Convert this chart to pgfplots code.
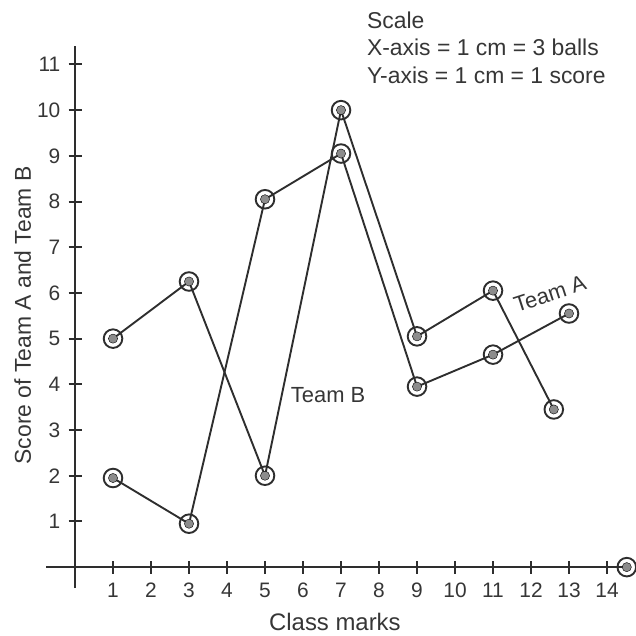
\documentclass[border=0pt]{standalone}
\usepackage{fontspec}
\setmainfont{Liberation Sans}
\usepackage{pgfplots}
\usepackage{pgfplotstable}
\pgfplotsset{compat=1.18}
\definecolor{ink}{HTML}{2E2E2E}
\definecolor{txt}{HTML}{363636}
\definecolor{dotc}{HTML}{8C8C8C}
\pgfplotstableread{
x y
1 5.0
3 6.25
5 2.0
7 10.0
9 5.05
11 6.05
12.6 3.45
}\seriesA
\pgfplotstableread{
x y
1 1.95
3 0.95
5 8.05
7 9.05
9 3.95
11 4.65
13 5.55
}\seriesB
\pgfplotstableread{
x y
14.52 0
}\axisend
\begin{document}
\begin{tikzpicture}
\begin{axis}[
  x=38bp, y=45.7bp,
  xmin=-0.76, xmax=14.52, ymin=-0.46, ymax=11.4,
  axis lines=middle,
  axis line style={-, line width=2.4bp, color=ink},
  xtick={1,...,14}, ytick={1,...,11},
  tick align=center,
  major tick length=13bp,
  tick style={line width=2bp, color=ink},
  /pgf/number format/assume math mode=true,
  tick label style={font=\fontsize{21}{25}\selectfont, text=txt, inner sep=0pt},
  xticklabel style={anchor=north, yshift=-9bp},
  yticklabel style={anchor=east, xshift=-8bp},
  clip=false,
]
\addplot[ink, line width=1.9bp, no marks] table {\seriesA};
\addplot[ink, line width=1.9bp, no marks] table {\seriesB};
\addplot[only marks, mark=o, mark size=9.3bp, mark options={draw=ink, fill=white, line width=1.9bp}] table {\seriesA};
\addplot[only marks, mark=o, mark size=9.3bp, mark options={draw=ink, fill=white, line width=1.9bp}] table {\seriesB};
\addplot[only marks, mark=o, mark size=9.3bp, mark options={draw=ink, fill=white, line width=1.9bp}] table {\axisend};
\addplot[only marks, mark=*, mark size=4.6bp, mark options={draw=none, fill=dotc}] table {\seriesA};
\addplot[only marks, mark=*, mark size=4.6bp, mark options={draw=none, fill=dotc}] table {\seriesB};
\addplot[only marks, mark=*, mark size=4.6bp, mark options={draw=none, fill=dotc}] table {\axisend};
\node[text=txt, font=\fontsize{22}{26}\selectfont] at (axis cs:6.66,3.76) {Team B};
\node[text=txt, font=\fontsize{22}{26}\selectfont, rotate=18, inner sep=0pt] at (axis cs:12.5,5.98) {Team A};
\node[text=txt, font=\fontsize{23}{27}\selectfont, anchor=base west, inner sep=0pt] at (axis cs:7.68,11.79) {Scale};
\node[text=txt, font=\fontsize{23}{27}\selectfont, anchor=base west, inner sep=0pt] at (axis cs:7.68,11.20) {X-axis = 1 cm = 3 balls};
\node[text=txt, font=\fontsize{23}{27}\selectfont, anchor=base west, inner sep=0pt] at (axis cs:7.68,10.59) {Y-axis = 1 cm = 1 score};
\node[text=txt, font=\fontsize{24}{28}\selectfont, anchor=base, inner sep=0pt] at (axis cs:6.84,-1.38) {Class marks};
\node[text=txt, font=\fontsize{23}{27}\selectfont, anchor=base, inner sep=0pt, rotate=90] at (axis cs:-1.16,5.51) {Score of Team A and Team B};
\coordinate (bbSW) at (axis cs:-1.974,-1.488);
\coordinate (bbNE) at (axis cs:14.763,12.41);
\end{axis}
\pgfresetboundingbox
\path (bbSW) rectangle (bbNE);
\end{tikzpicture}
\end{document}
